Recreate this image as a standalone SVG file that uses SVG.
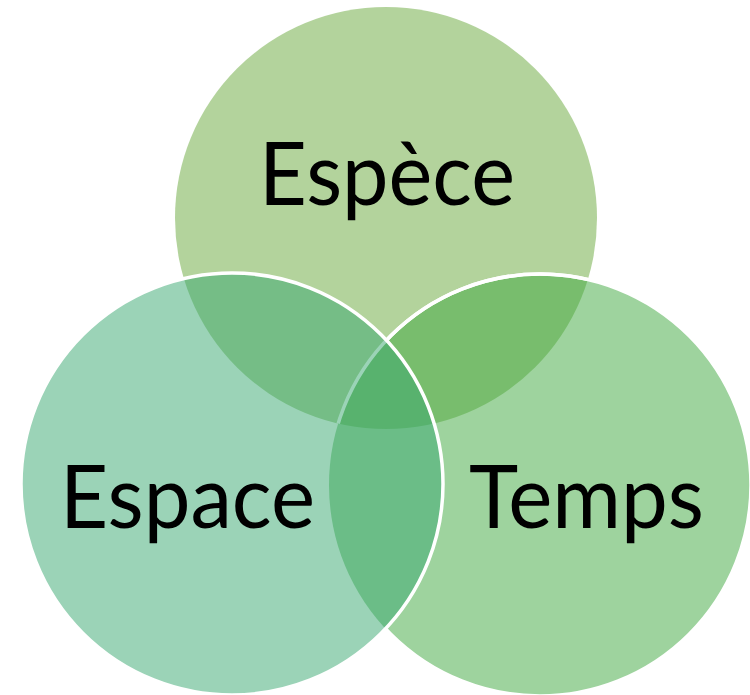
<svg xmlns="http://www.w3.org/2000/svg" width="750" height="695" viewBox="0 0 750 695">
<style>
.lbl{font-family:Lato,"Open Sans","Liberation Sans",sans-serif;font-size:88px;fill:#000}
.edge{fill:none;stroke:#fff;stroke-width:3.5}
</style>
<defs>
<clipPath id="inTop"><circle cx="386" cy="218" r="211"/></clipPath>
<clipPath id="outLeft"><path clip-rule="evenodd" d="M-10,-10H760V705H-10Z M443,484A211,211 0 1 0 21,484A211,211 0 1 0 443,484Z"/></clipPath>
</defs>
<rect width="750" height="695" fill="#fff"/>
<g id="espece">
<circle cx="386" cy="218" r="211" fill="#67A739" fill-opacity="0.5"/>
<text class="lbl" x="259" y="205" textLength="256" lengthAdjust="spacingAndGlyphs">Espèce</text>
</g>
<g id="temps">
<circle cx="540" cy="485" r="211" fill="#3DA73D" fill-opacity="0.5"/>
<circle class="edge" cx="540" cy="485" r="211" clip-path="url(#inTop)"/>
<text class="lbl" x="469" y="528" textLength="235" lengthAdjust="spacingAndGlyphs">Temps</text>
</g>
<g id="espace">
<circle cx="232" cy="484" r="211" fill="#37A76F" fill-opacity="0.5"/>
<circle class="edge" cx="232" cy="484" r="211"/>
<text class="lbl" x="60" y="528" textLength="255" lengthAdjust="spacingAndGlyphs">Espace</text>
</g>
<g id="connectors">
<circle class="edge" cx="540" cy="485" r="211" clip-path="url(#outLeft)"/>
</g>
</svg>
